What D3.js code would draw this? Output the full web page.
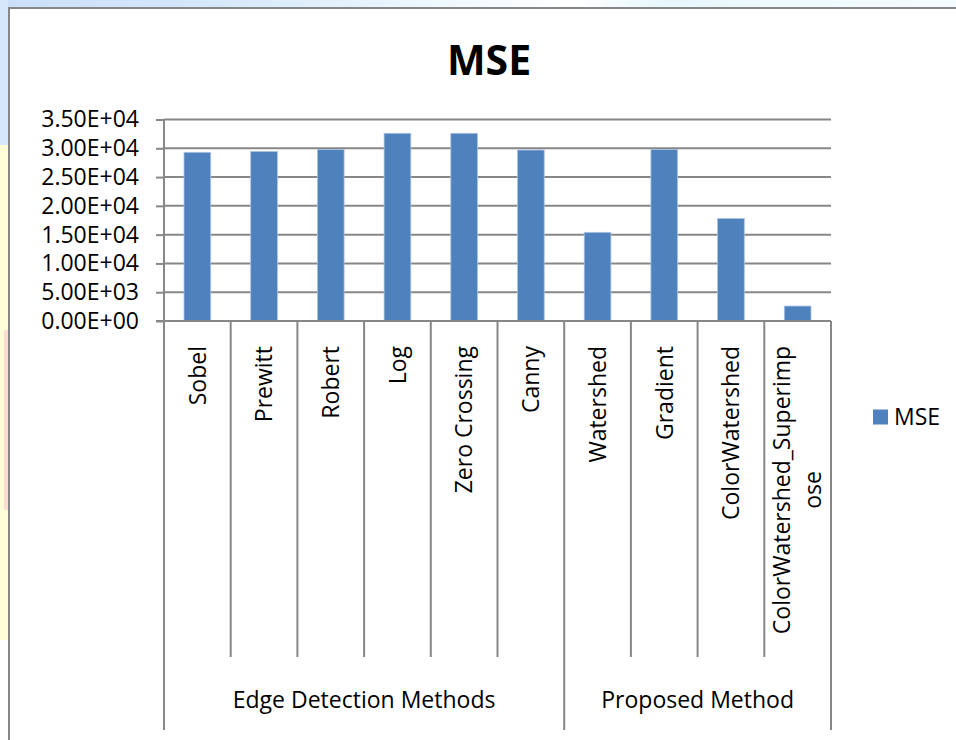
<!DOCTYPE html>
<html>
<head>
<meta charset="utf-8">
<script src="https://cdn.jsdelivr.net/npm/d3@7"></script>
<style>
  html, body { margin: 0; padding: 0; background: #ffffff; }
  svg { display: block; }
  text { font-family: "Open Sans", "Noto Sans", sans-serif; fill: #000; }
</style>
</head>
<body>
<svg id="chart" width="956" height="740"></svg>
<script>
// Mean squared error per segmentation method
const categories = ["Sobel", "Prewitt", "Robert", "Log", "Zero Crossing", "Canny",
                    "Watershed", "Gradient", "ColorWatershed", "ColorWatershed_Superimpose"];
const mseValues = [29300, 29450, 29800, 32600, 32600, 29700, 15400, 29800, 17800, 2600];
const groupNames = ["Edge Detection Methods", "Proposed Method"];
const groupSizes = [6, 4];
const yTicks = [0, 5000, 10000, 15000, 20000, 25000, 30000, 35000];
const seriesName = "MSE";
const chartTitle = "MSE";

const W = 956, H = 740;
const svg = d3.select("#chart");
const AXIS = "#878787";
const BAR = "#4f81bd";

// slide backdrop peeking around the chart frame
const defs = svg.append("defs");
const topGrad = defs.append("linearGradient").attr("id", "topStrip");
[[0, "#cbe0fb"], [0.2, "#d3e7fb"], [0.35, "#e2f1fd"], [0.45, "#eef8ff"], [0.6, "#ffffff"],
 [0.7, "#e6f7fd"], [0.8, "#eef9fd"], [1, "#f4fbfe"]]
  .forEach(([o, c]) => topGrad.append("stop").attr("offset", o).attr("stop-color", c));
svg.append("rect").attr("x", 0).attr("y", 0).attr("width", W).attr("height", 8).attr("fill", "url(#topStrip)");
svg.append("rect").attr("x", 0).attr("y", 0).attr("width", 8).attr("height", 145).attr("fill", "#d6e6fb");
svg.append("rect").attr("x", 0).attr("y", 145).attr("width", 8).attr("height", 495).attr("fill", "#fffcd8");
svg.append("rect").attr("x", 4).attr("y", 330).attr("width", 4).attr("height", 180).attr("fill", "#fbdcd2");

// chart frame
svg.append("rect").attr("x", 9).attr("y", 8).attr("width", W).attr("height", H)
  .attr("fill", "#ffffff").attr("stroke", AXIS).attr("stroke-width", 2);

// title
svg.append("text").attr("x", 489).attr("y", 75).attr("text-anchor", "middle")
  .style("font-size", "41px").style("font-weight", "bold").text(chartTitle);

const plot = { left: 164, right: 831, top: 119.5, bottom: 321 };

const x = d3.scaleBand().domain(categories).range([plot.left, plot.right]).paddingInner(0).paddingOuter(0);
const y = d3.scaleLinear().domain([0, 35000]).range([plot.bottom, plot.top]);

const fmt = v => {
  const [m, e] = v.toExponential(2).split("e");
  const sign = e[0] === "-" ? "-" : "+";
  const ex = String(Math.abs(+e)).padStart(2, "0");
  return m.toUpperCase() + "E" + sign + ex;
};

// gridlines and value axis
const yAxis = svg.append("g").attr("transform", `translate(${plot.left},0)`)
  .call(d3.axisLeft(y).tickValues(yTicks).tickFormat(fmt).tickSize(8).tickPadding(17));
yAxis.select(".domain").attr("stroke", AXIS).attr("stroke-width", 2)
  .attr("d", `M0,${plot.top}V${plot.bottom}`);
yAxis.selectAll(".tick line").attr("stroke", AXIS).attr("stroke-width", 2);
yAxis.selectAll(".tick text").style("font-size", "23px").style("font-family", "'Open Sans', sans-serif")
  .attr("fill", "#000");

svg.append("g").selectAll("line").data(yTicks.filter(t => t > 0)).join("line")
  .attr("x1", plot.left).attr("x2", plot.right)
  .attr("y1", d => y(d)).attr("y2", d => y(d))
  .attr("stroke", AXIS).attr("stroke-width", 2);

// bars
const barW = x.bandwidth() * 0.4;
svg.append("g").selectAll("rect").data(categories).join("rect")
  .attr("x", d => x(d) + (x.bandwidth() - barW) / 2)
  .attr("width", barW)
  .attr("y", (d, i) => y(mseValues[i]))
  .attr("height", (d, i) => y(0) - y(mseValues[i]))
  .attr("fill", BAR)
  .attr("stroke", "#a9c2e2").attr("stroke-width", 0.8);

// category axis baseline
svg.append("line").attr("x1", plot.left - 8).attr("x2", plot.right)
  .attr("y1", plot.bottom).attr("y2", plot.bottom)
  .attr("stroke", AXIS).attr("stroke-width", 2);

// category dividers (short) and group dividers (long)
const groupEdges = [0];
groupSizes.forEach((s, i) => groupEdges.push(groupEdges[i] + s));
const boundaries = d3.range(categories.length + 1);
svg.append("g").selectAll("line").data(boundaries).join("line")
  .attr("x1", i => plot.left + i * x.step()).attr("x2", i => plot.left + i * x.step())
  .attr("y1", plot.bottom)
  .attr("y2", i => groupEdges.includes(i) ? 730 : 657)
  .attr("stroke", AXIS).attr("stroke-width", 2);

// rotated category labels, wrapped when longer than the available depth
const maxLabel = 300;
const labelG = svg.append("g");
categories.forEach(name => {
  const cx = x(name) + x.bandwidth() / 2;
  const g = labelG.append("g").attr("transform", `translate(${cx},346) rotate(-90)`);
  const probe = g.append("text").style("font-size", "23px").text(name);
  let lines = [name];
  if (probe.node().getComputedTextLength() > maxLabel) {
    lines = [];
    let cur = "";
    for (const ch of name) {
      probe.text(cur + ch);
      if (probe.node().getComputedTextLength() > maxLabel && cur) { lines.push(cur); cur = ch; }
      else cur += ch;
    }
    if (cur) lines.push(cur);
  }
  probe.remove();
  if (lines.length === 1) {
    g.append("text").attr("text-anchor", "end").attr("dy", "0.36em")
      .style("font-size", "23px").text(lines[0]);
  } else {
    const lh = 31;
    const t = g.append("text").style("font-size", "23px").attr("text-anchor", "middle");
    lines.forEach((ln, k) => {
      t.append("tspan").attr("x", -maxLabel / 2 + 6)
        .attr("y", (k - (lines.length - 1) / 2) * lh)
        .attr("dy", "0.36em").text(ln);
    });
  }
});

// group labels
groupNames.forEach((gname, i) => {
  const x0 = plot.left + groupEdges[i] * x.step();
  const x1 = plot.left + groupEdges[i + 1] * x.step();
  svg.append("text").attr("x", (x0 + x1) / 2).attr("y", 708).attr("text-anchor", "middle")
    .style("font-size", "23px").text(gname);
});

// legend
svg.append("rect").attr("x", 873).attr("y", 409.5).attr("width", 15).attr("height", 15).attr("fill", BAR);
svg.append("text").attr("x", 894).attr("y", 425).style("font-size", "23px").text(seriesName);
</script>
</body>
</html>
